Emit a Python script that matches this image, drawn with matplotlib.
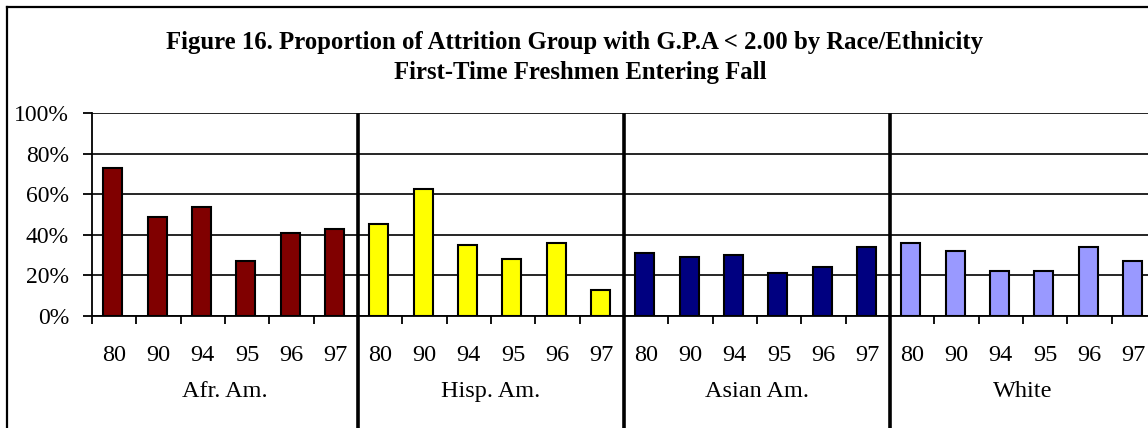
import matplotlib
matplotlib.use('Agg')
import matplotlib.pyplot as plt
import numpy as np
from matplotlib.lines import Line2D

plt.rcParams['font.family'] = ['Liberation Serif', 'DejaVu Serif']

# data
groups = ['Afr. Am.', 'Hisp. Am.', 'Asian Am.', 'White']
years = ['80', '90', '94', '95', '96', '97']
afr_am = [73, 49, 53.5, 27, 41, 43]
hisp_am = [45.5, 62.5, 35, 28, 36, 13]
asian_am = [31, 29, 30, 21, 24, 34]
white = [36, 32, 22, 22, 34, 27]
colors = ['#800000', '#FFFF00', '#000080', '#9999FF']

series = [afr_am, hisp_am, asian_am, white]

W, H = 1148, 428
fig = plt.figure(figsize=(W / 100, H / 100), dpi=100)
ax = fig.add_axes([92 / W, (H - 316) / H, (1156 - 92) / W, 203 / H])

n = len(years)
for g, (vals, col) in enumerate(zip(series, colors)):
    x = g * n + np.arange(n) + 0.47
    ax.bar(x, vals, width=0.43, color=col, edgecolor='black', linewidth=1.5, zorder=3)

ax.set_xlim(0, n * len(groups))
ax.set_ylim(0, 100)

# grid lines
ax.set_yticks(np.arange(0, 101, 20))
ax.set_yticklabels([f'{v}%' for v in range(0, 101, 20)], fontsize=17)
ax.yaxis.grid(True, color='black', linewidth=1.2, zorder=1)
ax.set_axisbelow(True)

# boundary ticks on x
ax.set_xticks(np.arange(0, n * len(groups) + 1))
ax.set_xticklabels([])
ax.tick_params(axis='x', direction='out', length=5.5, width=1.3, color='black')
ax.tick_params(axis='y', direction='out', length=6.5, width=1.3, pad=10)

for side in ['top', 'right']:
    ax.spines[side].set_visible(False)
ax.spines['left'].set_linewidth(1.3)
ax.spines['bottom'].set_linewidth(1.3)

trans = ax.get_xaxis_transform()
for g, name in enumerate(groups):
    for i, yr in enumerate(years):
        ax.text(g * n + i + 0.5, -0.197, yr, transform=trans, ha='center',
                va='center', fontsize=17.5, clip_on=False)
    ax.text(g * n + n / 2, -0.374, name, transform=trans, ha='center',
            va='center', fontsize=17.5, clip_on=False)
    if g > 0:
        ax.plot([g * n, g * n], [0.99, -0.6], transform=trans, color='black',
                linewidth=2.6, clip_on=False, zorder=5)

# titles
fig.text(575 / W, 1 - 42 / H, 'Figure 16. Proportion of Attrition Group with G.P.A < 2.00 by Race/Ethnicity',
         ha='center', va='center', fontsize=17.8, fontweight='bold')
fig.text(580 / W, 1 - 72 / H, 'First-Time Freshmen Entering Fall',
         ha='center', va='center', fontsize=17.8, fontweight='bold')

# outer frame (cropped at right and bottom)
fig.add_artist(Line2D([7 / W, 7 / W], [0, 1 - 7 / H], color='black', linewidth=1.6))
fig.add_artist(Line2D([7 / W, 1], [1 - 7 / H, 1 - 7 / H], color='black', linewidth=1.6))

fig.savefig('out.png', dpi=100)
